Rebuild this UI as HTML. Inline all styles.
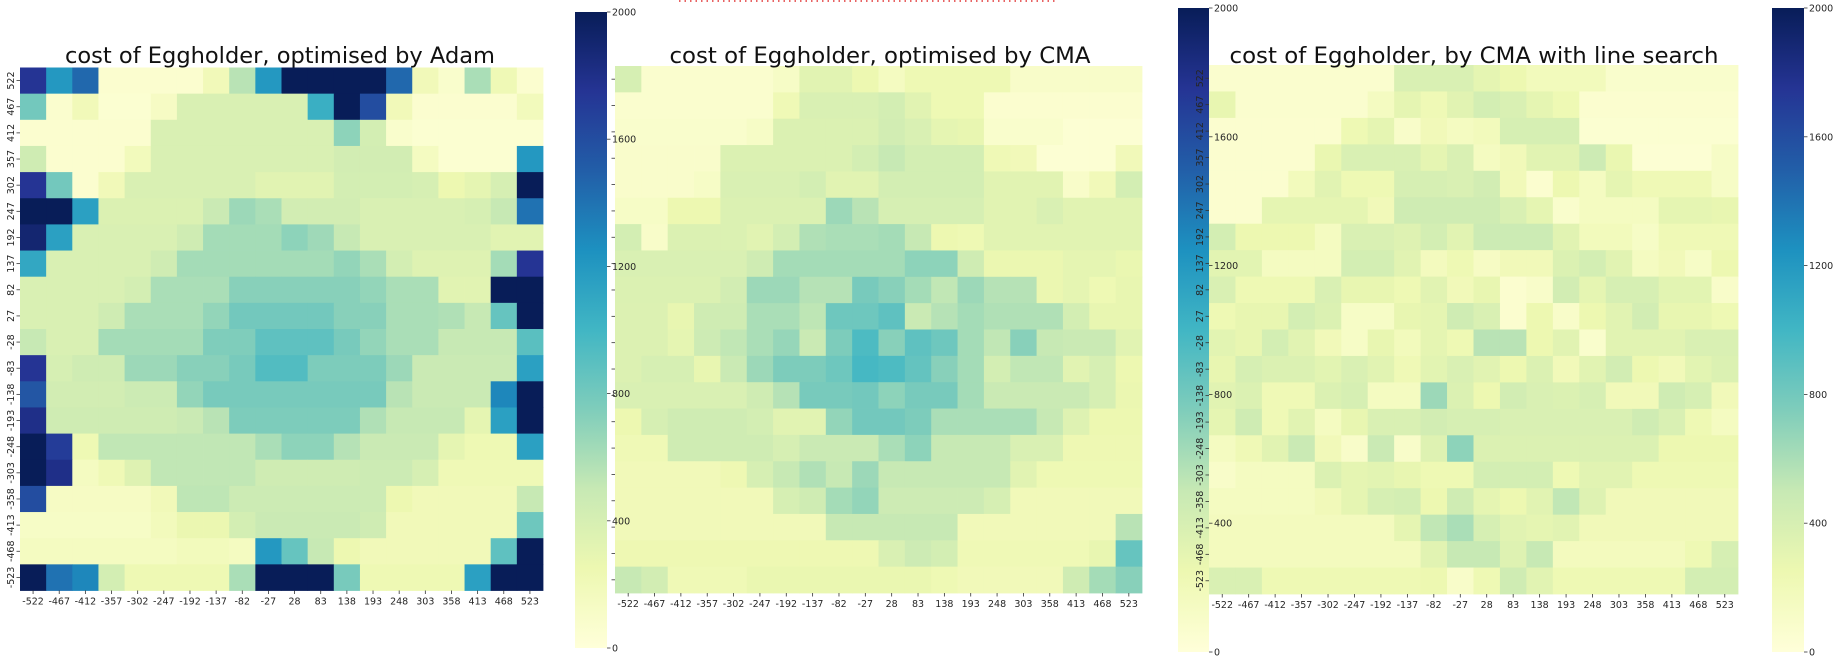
<!DOCTYPE html>
<html><head><meta charset="utf-8"><style>
html,body{margin:0;padding:0;background:#fff;}
svg{display:block;font-family:"DejaVu Sans","Liberation Sans",sans-serif;}
</style></head><body>
<svg id="chart" width="1842" height="670" viewBox="0 0 1842 670" xmlns="http://www.w3.org/2000/svg">
<defs>
<linearGradient id="ylgnbu" x1="0" y1="1" x2="0" y2="0">
<stop offset="0" stop-color="#ffffd9"/><stop offset="0.125" stop-color="#edf8b1"/><stop offset="0.25" stop-color="#c7e9b4"/><stop offset="0.375" stop-color="#7fcdbb"/><stop offset="0.5" stop-color="#41b6c4"/><stop offset="0.625" stop-color="#1d91c0"/><stop offset="0.75" stop-color="#225ea8"/><stop offset="0.875" stop-color="#253494"/><stop offset="1" stop-color="#081d58"/>
</linearGradient>
</defs>
<line x1="679" y1="1" x2="1057" y2="1" stroke="#e03030" stroke-width="1.5" stroke-dasharray="1.5,4"/>
</svg>
<script>
const xLabels = ["-522","-467","-412","-357","-302","-247","-192","-137","-82","-27","28","83","138","193","248","303","358","413","468","523"];
const yLabels = ["522","467","412","357","302","247","192","137","82","27","-28","-83","-138","-193","-248","-303","-358","-413","-468","-523"];
const cbTicks = [0,400,800,1200,1600,2000];
const adamValues = [
[1750,1200,1450,60,60,60,60,200,550,1200,2000,2000,2000,2000,1450,200,80,600,220,60],
[800,70,200,50,50,130,380,380,380,380,380,1050,2000,1600,200,60,60,60,60,180],
[60,60,60,60,60,380,380,380,380,380,380,380,700,420,80,50,50,50,50,50],
[450,60,60,60,180,380,380,380,380,380,380,380,430,430,430,150,50,50,50,1200],
[1750,800,60,200,380,380,380,380,380,330,330,330,420,420,420,400,250,300,400,2000],
[2000,2000,1150,370,370,370,370,480,650,600,430,430,430,380,380,380,380,400,500,1400],
[1900,1150,380,380,380,380,450,620,620,620,700,640,500,380,380,380,380,380,330,330],
[1100,380,380,380,380,450,620,620,620,620,620,620,680,600,420,350,350,350,620,1750],
[380,380,380,380,420,600,600,600,720,720,720,720,720,680,600,600,330,330,2000,2000],
[380,380,380,450,600,600,600,680,800,800,800,800,720,720,600,600,580,500,850,2000],
[500,380,380,620,620,620,620,750,750,880,880,880,780,680,600,600,500,500,500,900],
[1750,400,450,450,650,650,720,720,780,930,930,760,760,760,650,480,480,480,480,1150],
[1550,430,430,430,470,470,680,780,780,780,780,780,780,780,550,480,480,480,1300,2000],
[1800,450,450,450,450,450,480,550,760,760,760,760,760,580,500,500,500,300,1150,2000],
[2000,1700,230,520,520,520,520,520,520,600,700,700,560,480,480,480,300,230,230,1150],
[2000,1800,150,220,350,520,520,520,520,450,450,450,450,470,470,400,220,220,220,220],
[1600,130,130,130,130,200,530,530,470,470,470,470,470,470,250,200,200,200,200,500],
[120,120,120,120,120,180,260,260,420,480,480,480,480,450,200,200,200,200,200,820],
[150,150,150,150,150,150,180,180,150,1200,850,500,250,200,200,200,200,200,880,2000],
[2000,1400,1300,420,230,230,230,230,600,2000,2000,2000,780,230,230,230,230,1150,2000,2000]
];
const cmaValues = [
[400,70,70,70,70,70,120,330,330,250,150,230,230,230,230,100,100,100,100,100],
[70,70,70,70,70,70,220,380,380,380,420,330,230,230,60,60,60,60,60,60],
[80,80,80,80,80,120,370,370,370,370,430,380,300,280,80,80,80,40,40,40],
[90,90,90,90,370,370,370,370,370,420,500,420,420,420,220,200,40,40,40,200],
[90,90,90,120,380,380,380,420,330,330,420,420,420,420,330,330,330,100,200,420],
[120,120,250,250,370,370,370,370,650,550,400,400,400,400,330,330,380,330,330,330],
[420,100,370,370,370,330,420,580,600,600,620,500,250,230,330,330,330,330,330,330],
[380,380,380,380,380,450,620,620,620,620,620,700,700,450,260,260,260,300,300,270],
[370,370,370,370,430,650,650,560,560,780,720,620,520,650,560,560,260,300,230,280],
[360,360,280,450,450,600,600,530,820,820,880,480,560,620,580,580,580,420,280,280],
[360,360,300,460,520,600,670,480,760,950,720,880,820,620,520,720,500,480,480,330],
[360,400,400,280,480,650,760,760,820,980,950,860,720,620,420,520,520,330,400,250],
[380,380,380,380,380,450,560,780,780,800,700,780,780,620,480,480,480,480,400,260],
[250,400,450,450,450,420,330,330,680,800,800,760,600,600,600,600,500,350,250,250],
[220,220,450,450,450,450,400,480,480,480,600,700,500,500,500,380,380,240,240,240],
[200,200,200,200,240,400,500,580,500,650,500,500,500,500,500,330,230,230,230,230],
[200,200,200,200,200,200,400,450,620,680,460,460,460,460,400,200,200,200,200,200],
[200,200,200,200,200,200,200,200,500,500,500,500,500,200,200,200,200,200,200,550],
[240,240,240,240,240,240,240,240,240,240,380,460,420,220,220,220,220,220,280,850],
[500,430,220,220,220,270,270,270,270,270,270,270,230,200,200,200,200,450,620,720]
];
const lineSearchValues = [
[70,70,70,70,70,70,70,380,380,380,300,250,180,180,180,80,80,80,80,80],
[280,70,70,70,70,70,150,300,220,330,420,380,300,230,60,60,60,60,60,60],
[60,60,60,60,60,230,300,100,200,150,180,400,400,400,50,50,50,50,50,50],
[60,60,60,60,270,380,380,380,300,380,150,200,330,330,460,270,40,40,40,120],
[60,60,60,180,330,230,230,400,400,380,430,200,60,250,150,300,220,220,220,120],
[60,60,300,300,300,300,200,450,450,450,450,380,300,80,150,150,150,300,300,280],
[420,250,250,250,150,380,380,350,420,330,470,470,470,330,180,180,120,220,220,220],
[320,320,150,150,150,420,420,330,170,230,130,200,200,370,420,330,150,200,120,250],
[380,230,230,230,380,280,280,230,330,200,280,60,100,430,300,400,400,320,320,100],
[230,280,280,420,370,120,120,280,300,450,380,60,250,100,250,330,430,280,280,230],
[320,280,420,330,200,120,280,180,300,230,550,550,250,330,80,330,330,330,380,380],
[280,400,370,370,320,380,330,220,320,380,330,250,370,200,330,430,250,200,320,370],
[330,370,220,220,370,400,150,150,650,370,250,430,380,370,400,200,200,450,400,200],
[300,450,220,330,150,280,380,380,430,400,400,380,380,380,380,380,450,380,230,150],
[150,220,330,480,200,100,480,100,350,700,370,370,370,370,370,370,370,250,250,250],
[100,150,150,150,370,300,320,280,230,230,420,420,420,230,330,330,230,230,230,230],
[150,150,150,150,200,300,400,420,250,450,300,250,330,520,350,200,200,200,200,200],
[170,170,170,170,170,170,170,300,520,600,400,330,300,330,200,200,200,200,200,200],
[170,170,170,170,170,170,170,170,330,500,500,350,500,170,170,170,170,170,230,400],
[380,380,230,230,230,230,230,230,250,100,230,450,330,230,230,230,230,230,420,420]
];
const vmin = 0, vmax = 2000;
const stops = ["#ffffd9","#edf8b1","#c7e9b4","#7fcdbb","#41b6c4","#1d91c0","#225ea8","#253494","#081d58"];
function hex(c){return [parseInt(c.slice(1,3),16),parseInt(c.slice(3,5),16),parseInt(c.slice(5,7),16)];}
function colorFor(v){
  let t=Math.max(0,Math.min(1,(v-vmin)/(vmax-vmin)))*(stops.length-1);
  let i=Math.min(stops.length-2,Math.floor(t)), f=t-i;
  let a=hex(stops[i]), b=hex(stops[i+1]);
  return "rgb("+a.map((x,k)=>Math.round(x+(b[k]-x)*f)).join(",")+")";
}
const NS="http://www.w3.org/2000/svg";
const svg=document.getElementById("chart");
function mk(tag,attrs,parent){const e=document.createElementNS(NS,tag);for(const k in attrs)e.setAttribute(k,attrs[k]);(parent||svg).appendChild(e);return e;}

const panels=[
 {key:"adam",vals:adamValues,x0:20,y0:67.5,cell:26.15,title:"cost of Eggholder, optimised by Adam",tx:280,tw:430,ylab:true,
  cb:{x:575,y0:12,y1:648,w:32}},
 {key:"cma",vals:cmaValues,x0:615,y0:66,cell:26.35,title:"cost of Eggholder, optimised by CMA",tx:880,tw:421,ylab:false,
  cb:{x:1178,y0:8,y1:652,w:31}},
 {key:"cma-line-search",vals:lineSearchValues,x0:1209,y0:65,cell:26.45,title:"cost of Eggholder, by CMA with line search",tx:1474,tw:489,ylab:true,
  cb:{x:1772,y0:8,y1:652,w:32}}
];

// pass 1: heatmaps
panels.forEach(p=>{
  const g=mk("g",{});
  
  
  const xs=i=>p.x0+i*p.cell, ys=j=>p.y0+j*p.cell;
  p.vals.forEach((row,j)=>row.forEach((v,i)=>{
    const r=mk("rect",{x:xs(i),y:ys(j),width:p.cell+0.4,height:p.cell+0.4,fill:colorFor(v)},g);
    
    
  }));
});
// pass 2: colorbars
panels.forEach(p=>{
  const cg=mk("g",{});
  
  
  const c=p.cb;
  mk("rect",{x:c.x,y:c.y0,width:c.w,height:c.y1-c.y0,fill:"url(#ylgnbu)"},cg);
  const cbY=v=>c.y1-(v-vmin)/(vmax-vmin)*(c.y1-c.y0);
  cbTicks.forEach(v=>{
    const y=cbY(v);
    mk("line",{x1:c.x+c.w,y1:y,x2:c.x+c.w+3.5,y2:y,stroke:"#333","stroke-width":0.8},cg);
    const t=mk("text",{x:c.x+c.w+5,y:y+3.5,"font-size":"9.5",fill:"#262626"},cg);
    t.textContent=String(v);
    
    
  });
});
// pass 3: axes, labels, titles
panels.forEach(p=>{
  const g=mk("g",{});
  
  
  const xs=i=>p.x0+i*p.cell, ys=j=>p.y0+j*p.cell;
  const bottom=ys(20), left=p.x0;
  xLabels.forEach((l,i)=>{
    const cx=xs(i)+p.cell/2;
    mk("line",{x1:cx,y1:bottom,x2:cx,y2:bottom+3.5,stroke:"#333","stroke-width":0.8},g);
    const t=mk("text",{x:cx,y:bottom+14,"font-size":"9.5","text-anchor":"middle",fill:"#262626"},g);
    t.textContent=l;
    
    
  });
  yLabels.forEach((l,j)=>{
    const cy=ys(j)+p.cell/2;
    mk("line",{x1:left-3.5,y1:cy,x2:left,y2:cy,stroke:"#333","stroke-width":0.8},g);
    if(p.ylab){
      const t=mk("text",{x:0,y:0,"font-size":"9.5","text-anchor":"middle",fill:"#262626",transform:"translate("+(left-6)+","+cy+") rotate(-90)"},g);
      t.textContent=l;
      
      
    }
  });
  const tt=mk("text",{x:p.tx,y:63,"font-size":"22","text-anchor":"middle",fill:"#111",textLength:p.tw,lengthAdjust:"spacingAndGlyphs"});
  tt.textContent=p.title;
  
  
});
</script>
</body></html>
